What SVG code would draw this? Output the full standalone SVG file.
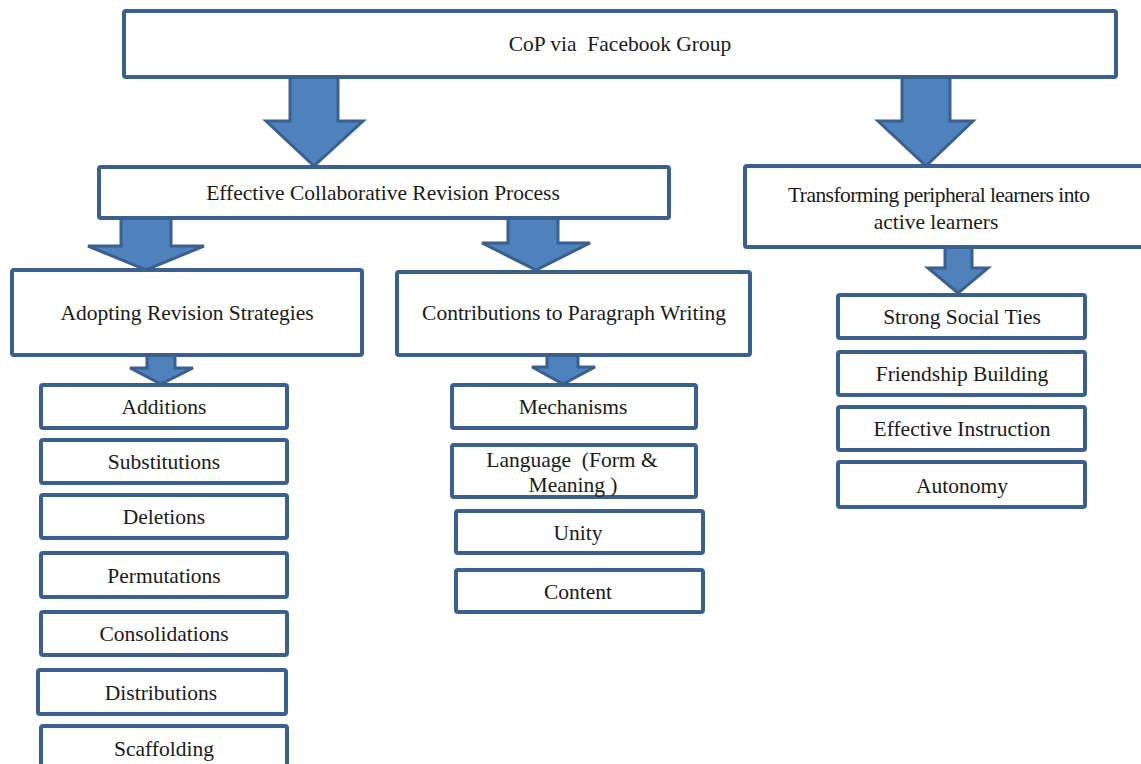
<svg xmlns="http://www.w3.org/2000/svg" width="1141" height="764" viewBox="0 0 1141 764">
<style>
.box{fill:#ffffff;stroke:#3B5F8E;stroke-width:4}
.arr{fill:#4F81BD;stroke:#3B5F8E;stroke-width:3;stroke-linejoin:miter}
text{font-family:"Liberation Serif","Times New Roman",serif;font-size:21.5px;fill:#1a1a1a;text-anchor:middle}
</style>
<rect width="1141" height="764" fill="#ffffff"/>
<g id="connectors">
<path class="arr" d="M290,77 L338,77 L338,121 L363,121 L314,166 L266,121 L290,121 Z"/>
<path class="arr" d="M902,77 L950,77 L950,121 L973,121 L926,166 L878,121 L902,121 Z"/>
<path class="arr" d="M121,218 L171,218 L171,246 L204,246 L146,270 L88,246 L121,246 Z"/>
<path class="arr" d="M508,218 L558,218 L558,243 L590,243 L536,270 L482,243 L508,243 Z"/>
<path class="arr" d="M945,247 L972,247 L972,268 L988,268 L958,293 L928,268 L945,268 Z"/>
<path class="arr" d="M147,355 L175,355 L175,368 L193,368 L161,384 L130,368 L147,368 Z"/>
<path class="arr" d="M547,355 L578,355 L578,367 L595,367 L563,384 L532,367 L547,367 Z"/>
</g>
<g id="root"><rect class="box" x="124" y="11" width="992" height="66" rx="2"/><text x="620" y="51" xml:space="preserve">CoP via  Facebook Group</text></g>
<g id="effective"><rect class="box" x="99" y="167" width="570" height="51" rx="2"/><text x="383" y="200">Effective Collaborative Revision Process</text></g>
<g id="transforming"><rect class="box" x="745" y="166" width="410" height="81" rx="2"/><text x="939" y="202" textLength="302" lengthAdjust="spacing">Transforming peripheral learners into</text><text x="936" y="229">active learners</text></g>
<g id="adopting"><rect class="box" x="12" y="270" width="350" height="85" rx="2"/><text x="187" y="320">Adopting Revision Strategies</text></g>
<g id="contributions"><rect class="box" x="397" y="272" width="353" height="83" rx="2"/><text x="574" y="320">Contributions to Paragraph Writing</text></g>
<g id="additions"><rect class="box" x="41" y="385" width="246" height="43" rx="2"/><text x="164" y="414">Additions</text></g>
<g id="substitutions"><rect class="box" x="41" y="440" width="246" height="43" rx="2"/><text x="164" y="469">Substitutions</text></g>
<g id="deletions"><rect class="box" x="41" y="495" width="246" height="43" rx="2"/><text x="164" y="524">Deletions</text></g>
<g id="permutations"><rect class="box" x="41" y="553" width="246" height="44" rx="2"/><text x="164" y="583">Permutations</text></g>
<g id="consolidations"><rect class="box" x="41" y="612" width="246" height="43" rx="2"/><text x="164" y="641">Consolidations</text></g>
<g id="distributions"><rect class="box" x="38" y="670" width="248" height="44" rx="2"/><text x="161" y="700">Distributions</text></g>
<g id="scaffolding"><rect class="box" x="41" y="726" width="246" height="50" rx="2"/><text x="164" y="756">Scaffolding</text></g>
<g id="mechanisms"><rect class="box" x="452" y="385" width="244" height="43" rx="2"/><text x="573" y="414">Mechanisms</text></g>
<g id="language"><rect class="box" x="452" y="445" width="244" height="52" rx="2"/><text x="572" y="467" xml:space="preserve">Language  (Form &amp;</text><text x="573" y="492">Meaning )</text></g>
<g id="unity"><rect class="box" x="456" y="511" width="247" height="42" rx="2"/><text x="578" y="540">Unity</text></g>
<g id="content"><rect class="box" x="456" y="570" width="247" height="42" rx="2"/><text x="578" y="599">Content</text></g>
<g id="social"><rect class="box" x="838" y="295" width="247" height="43" rx="2"/><text x="962" y="324">Strong Social Ties</text></g>
<g id="friendship"><rect class="box" x="838" y="352" width="247" height="43" rx="2"/><text x="962" y="381">Friendship Building</text></g>
<g id="instruction"><rect class="box" x="838" y="407" width="247" height="43" rx="2"/><text x="962" y="436">Effective Instruction</text></g>
<g id="autonomy"><rect class="box" x="838" y="462" width="247" height="45" rx="2"/><text x="962" y="493">Autonomy</text></g>
</svg>
